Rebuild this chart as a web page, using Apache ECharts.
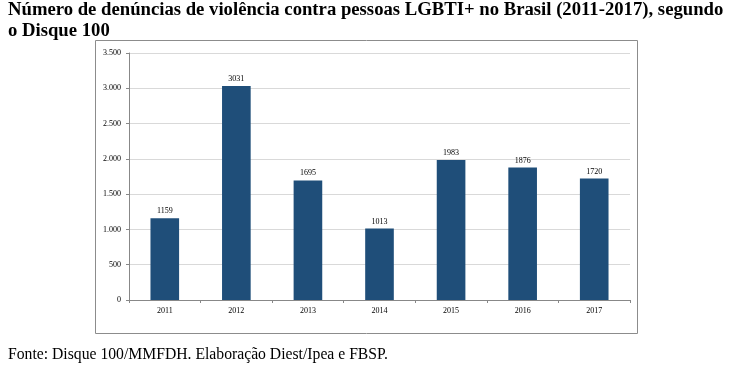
<!DOCTYPE html>
<html><head><meta charset="utf-8">
<script src="https://cdn.jsdelivr.net/npm/echarts@6/dist/echarts.min.js"></script>
<style>html,body{margin:0;padding:0;background:#fff}#c{width:729px;height:372px}</style>
</head><body><div id="c"></div>
<script>
const years = ['2011','2012','2013','2014','2015','2016','2017'];
const denuncias = [1159, 3031, 1695, 1013, 1983, 1876, 1720];
const yTickLabels = {0:'0',500:'500',1000:'1.000',1500:'1.500',2000:'2.000',2500:'2.500',3000:'3.000',3500:'3.500'};
const titleLines = ['Número de denúncias de violência contra pessoas LGBTI+ no Brasil (2011-2017), segundo','o Disque 100'];
const sourceText = 'Fonte: Disque 100/MMFDH. Elaboração Diest/Ipea e FBSP.';

const chart = echarts.init(document.getElementById('c'), null, {renderer:'canvas'});
const serif = '"Liberation Serif","Times New Roman",serif';
chart.setOption({
  animation:false,
  graphic:[
    {type:'rect', shape:{x:95.5,y:40.5,width:542,height:293}, style:{fill:'none',stroke:'#8c8c8c',lineWidth:1}, z:-1},
    {type:'text', left:8, top:0, style:{text:titleLines.join('\n'), font:'bold 18.7px '+serif, fill:'#000', lineHeight:21}},
    {type:'text', left:8, top:347, style:{text:sourceText, font:'15.7px '+serif, fill:'#000'}}
  ],
  grid:{left:129, right:99, top:53, bottom:72},
  xAxis:{type:'category', data:years,
    axisLine:{lineStyle:{color:'#888'}},
    axisTick:{show:true, length:3, lineStyle:{color:'#888'}},
    axisLabel:{color:'#000', fontFamily:serif, fontSize:8, margin:7}},
  yAxis:{type:'value', min:0, max:3500, interval:500,
    axisLine:{show:true, lineStyle:{color:'#888'}},
    axisTick:{show:true, length:3, lineStyle:{color:'#888'}},
    splitLine:{lineStyle:{color:'#d9d9d9'}},
    axisLabel:{color:'#000', fontFamily:serif, fontSize:8, margin:8, formatter:v=>yTickLabels[v]}},
  series:[{type:'bar', data:denuncias, barWidth:'40%',
    itemStyle:{color:'#1F4E79'},
    label:{show:true, position:'top', color:'#000', fontFamily:serif, fontSize:8, distance:3}}]
});
</script></body></html>
